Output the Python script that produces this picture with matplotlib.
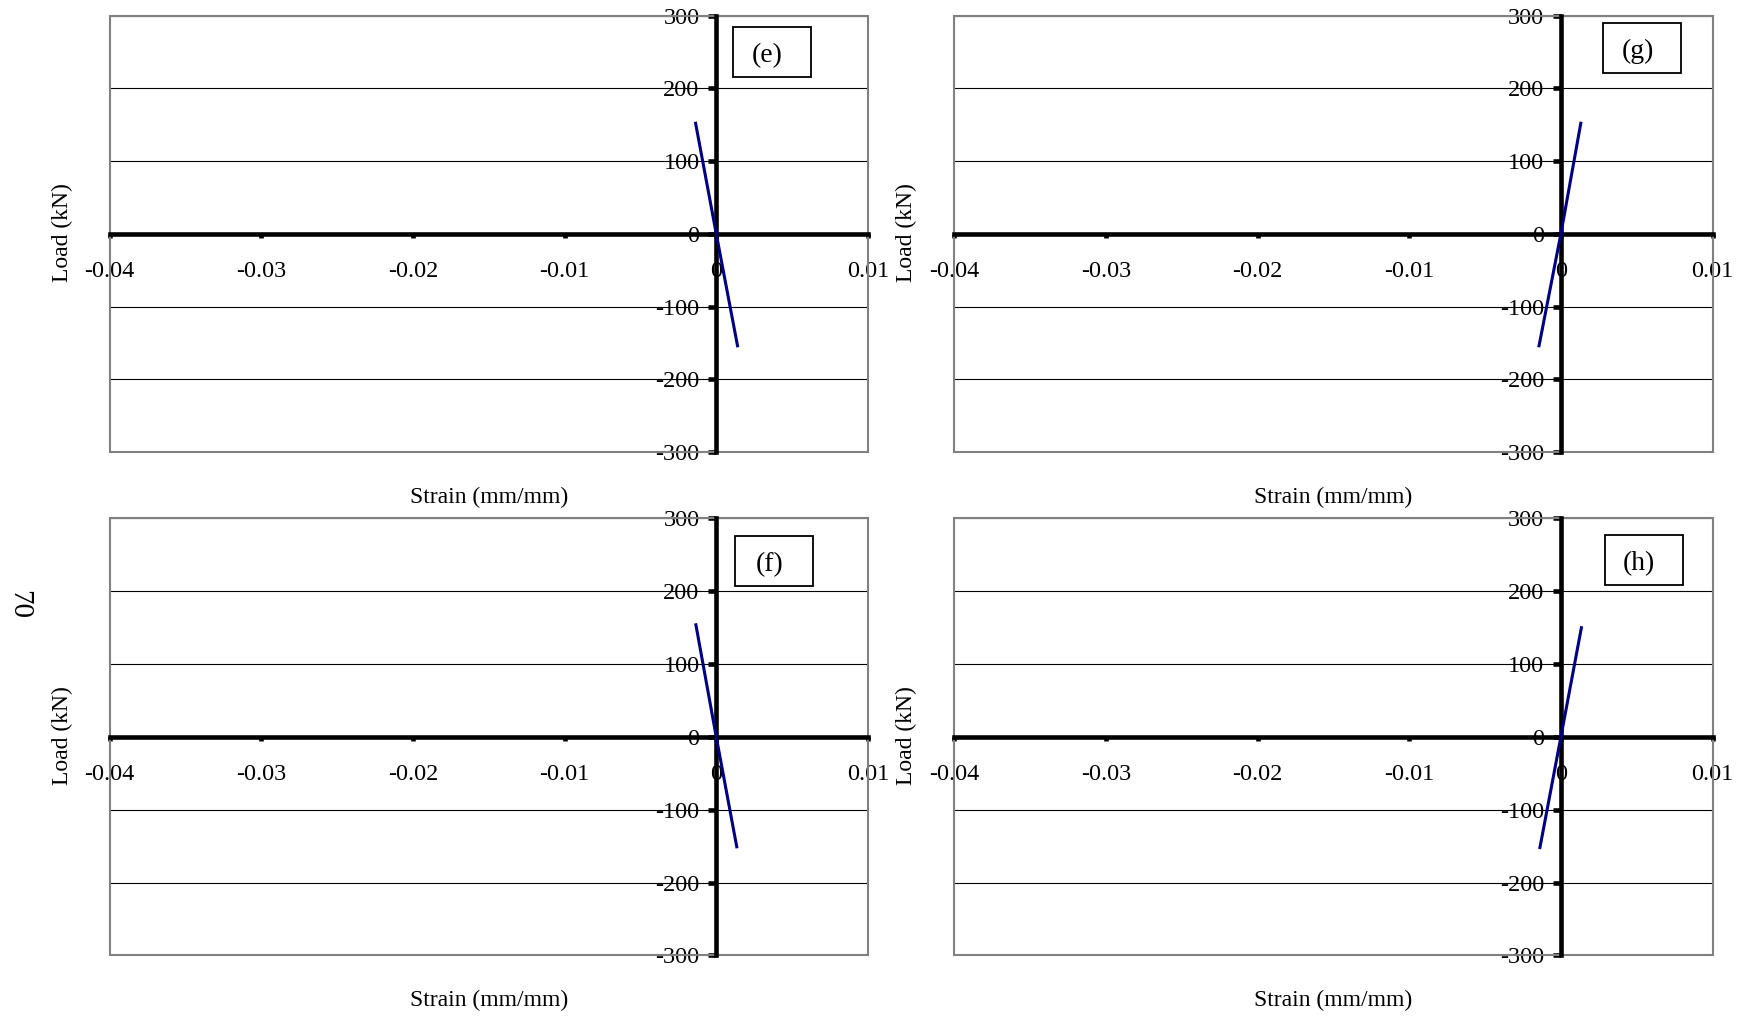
import matplotlib
matplotlib.use("Agg")
import matplotlib.pyplot as plt
from matplotlib.patches import Rectangle

plt.rcParams['font.family'] = ['Liberation Serif', 'DejaVu Serif']
plt.rcParams['axes.unicode_minus'] = False

# ---- data ----
panel_names = ["(e)", "(g)", "(f)", "(h)"]
strain_e = [-0.00138, 0.0, 0.00142]
load_e = [154, 0, -156]
strain_g = [-0.00146, 0.0, 0.00133]
load_g = [-156, 0, 154]
strain_f = [-0.00136, 0.0, 0.00137]
load_f = [156, 0, -153]
strain_h = [-0.00140, 0.0, 0.00137]
load_h = [-154, 0, 152]

x_ticks = [-0.04, -0.03, -0.02, -0.01, 0.0, 0.01]
x_ticklabels = ["-0.04", "-0.03", "-0.02", "-0.01", "0", "0.01"]
y_ticks = [-300, -200, -100, 0, 100, 200, 300]
y_ticklabels = ["-300", "-200", "-100", "0", "100", "200", "300"]
xlabel = "Strain (mm/mm)"
ylabel = "Load (kN)"
page_number = "70"

series = {
    "(e)": (strain_e, load_e),
    "(g)": (strain_g, load_g),
    "(f)": (strain_f, load_f),
    "(h)": (strain_h, load_h),
}

# ---- layout ----
W, H = 1752, 1016
fig = plt.figure(figsize=(W / 100, H / 100), dpi=100)

col_left = [0.0625, 0.5446]
col_w = 0.4329
row_bottom = [0.5551, 0.0597]
row_h = [0.4296, 0.4300]

box_centers = {
    "(e)": (0.873, 0.917),
    "(g)": (0.907, 0.926),
    "(f)": (0.876, 0.903),
    "(h)": (0.909, 0.904),
}
box_w, box_h = 0.103, 0.1146

layout = {"(e)": (0, 0), "(g)": (0, 1), "(f)": (1, 0), "(h)": (1, 1)}

for name in panel_names:
    r, c = layout[name]
    ax = fig.add_axes([col_left[c], row_bottom[r], col_w, row_h[r]])
    xs, ys = series[name]
    ax.plot(xs, ys, color="#000080", lw=2.2, zorder=3, solid_capstyle='butt')
    ax.set_xlim(-0.04, 0.01)
    ax.set_ylim(-300, 300)
    ax.set_xticks(x_ticks)
    ax.set_xticklabels(x_ticklabels)
    ax.set_yticks(y_ticks)
    ax.set_yticklabels(y_ticklabels)
    ax.grid(axis='y', color='black', lw=0.8, zorder=1)
    ax.set_axisbelow(True)

    for s in ['top', 'right']:
        ax.spines[s].set_visible(False)
    ax.spines['left'].set_position(('data', 0))
    ax.spines['bottom'].set_position(('data', 0))
    for s in ['left', 'bottom']:
        ax.spines[s].set_color('black')
        ax.spines[s].set_linewidth(3.3)
        ax.spines[s].set_zorder(2.5)

    ax.tick_params(axis='x', direction='out', length=3, width=3.3, pad=16.5,
                   labelsize=17.5, color='black')
    ax.tick_params(axis='y', direction='out', length=6, width=3.3, pad=6,
                   labelsize=17.5, color='black')

    border = Rectangle((0, 0), 1, 1, transform=ax.transAxes, fill=False,
                       edgecolor='#808080', lw=1.5, clip_on=False, zorder=2)
    ax.add_patch(border)

    cx, cy = box_centers[name]
    box = Rectangle((cx - box_w / 2, cy - box_h / 2), box_w, box_h,
                    transform=ax.transAxes, fill=True, facecolor='white',
                    edgecolor='black', lw=1.3, zorder=4)
    ax.add_patch(box)
    ax.text(cx - 0.006, cy - 0.008, name, transform=ax.transAxes, ha='center',
            va='center', fontsize=20, zorder=5)

    ax.text(0.5, -0.104, xlabel, transform=ax.transAxes, ha='center',
            va='center', fontsize=17)
    ax.text(-0.0624, 0.503, ylabel, transform=ax.transAxes, ha='center',
            va='center', rotation=90, fontsize=17)

fig.text(19.5 / W, 1 - 604 / H, page_number, rotation=-90, fontsize=21,
         ha='center', va='center')

fig.savefig("out.png", dpi=100)
